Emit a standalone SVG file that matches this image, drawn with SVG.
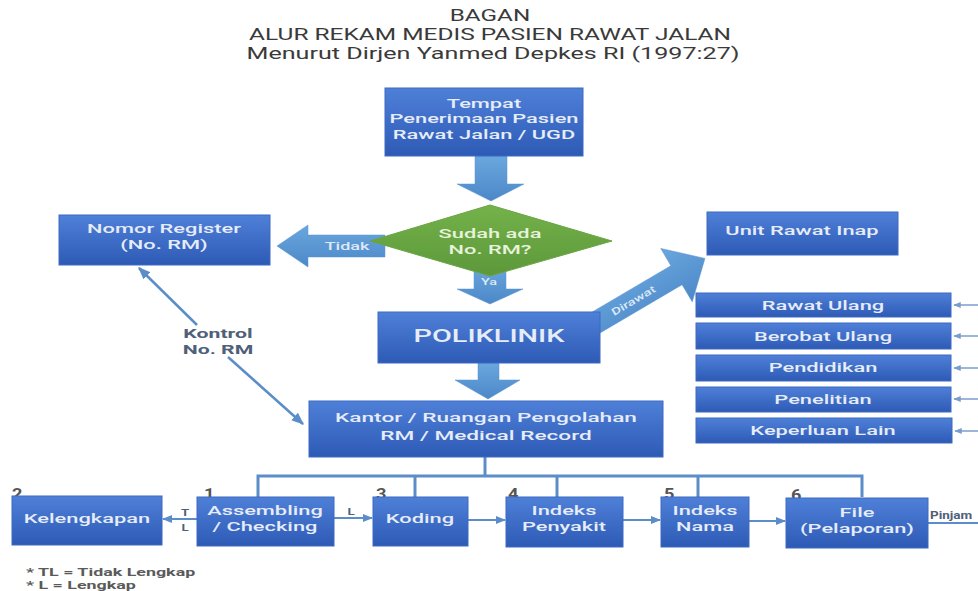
<svg xmlns="http://www.w3.org/2000/svg" width="978" height="591" viewBox="0 0 978 591">
<defs>
<linearGradient id="gBox" x1="0" y1="0" x2="0" y2="1"><stop offset="0" stop-color="#4f80d8"/><stop offset="1" stop-color="#2d5ab5"/></linearGradient>
<linearGradient id="gArr" x1="0" y1="0" x2="0" y2="1"><stop offset="0" stop-color="#6aa7de"/><stop offset="1" stop-color="#4c88c8"/></linearGradient>
<linearGradient id="gDia" x1="0" y1="0" x2="0" y2="1"><stop offset="0" stop-color="#74b24a"/><stop offset="1" stop-color="#5c983a"/></linearGradient>
<marker id="ah" viewBox="0 0 10 10" refX="9" refY="5" markerWidth="5" markerHeight="5" orient="auto-start-reverse"><path d="M0,1 L10,5 L0,9 z" fill="#5b8ec8"/></marker>
<marker id="ahs" viewBox="0 0 10 10" refX="9" refY="5" markerWidth="5" markerHeight="5" orient="auto"><path d="M0,1 L10,5 L0,9 z" fill="#7b9ccb"/></marker>
<style>
.box{fill:url(#gBox);stroke:#3d6bc4;stroke-width:1}
.arr{fill:url(#gArr);stroke:#5b95d0;stroke-width:0.5}
.bt{font-family:Roboto,"Liberation Sans",sans-serif;font-weight:500;font-size:13px;fill:#e6ecf8;text-anchor:middle}
.ttl{font-family:Roboto,"Liberation Sans",sans-serif;font-size:16px;fill:#3a3a3a;text-anchor:middle}
.sm{font-family:Roboto,"Liberation Sans",sans-serif;font-weight:500;font-size:10px;fill:#dfe8f6;text-anchor:middle}
.lbl{font-family:Roboto,"Liberation Sans",sans-serif;font-weight:700;fill:#4f6079}
.num{font-family:Roboto,"Liberation Sans",sans-serif;font-weight:700;font-size:14px;fill:#555}
.ln{fill:none;stroke:#5b8ec8;stroke-width:2}
.bus{fill:none;stroke:#5b8ec8;stroke-width:3}
.rs{fill:none;stroke:#7b9ccb;stroke-width:1.5}
</style>
</defs>
<rect width="978" height="591" fill="#ffffff"/>

<g id="title">
<text class="ttl" transform="translate(490,21) scale(1.52,1)">BAGAN</text>
<text class="ttl" transform="translate(490,40) scale(1.53,1)">ALUR REKAM MEDIS PASIEN RAWAT JALAN</text>
<text class="ttl" transform="translate(493,58.5) scale(1.57,1)">Menurut Dirjen Yanmed Depkes RI (1997:27)</text>
</g>

<g id="connectors">
<polygon class="arr" points="475,156 507,156 507,184 524,184 491,201 457,184 475,184"/>
<polygon class="arr" points="385,235 308,235 308,225 277,246 308,267 308,257 385,257"/>
<text class="sm" transform="translate(347,249.5) scale(1.8,1)">Tidak</text>
<polygon class="arr" points="474,265 506,265 506,289 523,289 490,304 457,289 474,289"/>
<text class="sm" transform="translate(489,285) scale(1.6,1)" style="font-size:9px">Ya</text>
<polygon class="arr" points="478,363 499,363 499,380 520,380 488,399 455,380 478,380"/>
<g transform="translate(580,332) rotate(-30.5)">
<polygon class="arr" points="0,-11 112,-11 112,-31 145,0 112,31 112,11 0,11"/>
<text class="sm" transform="translate(62,3.5) scale(1.45,1)">Dirawat</text>
</g>
<line class="ln" x1="197" y1="325" x2="139" y2="268" marker-end="url(#ah)" style="stroke-width:2.5"/>
<line class="ln" x1="228" y1="357" x2="303" y2="424" marker-end="url(#ah)" style="stroke-width:2.5"/>
<text class="lbl" transform="translate(218,338) scale(1.7,1)" style="font-size:12.5px;text-anchor:middle">Kontrol</text>
<text class="lbl" transform="translate(218,354) scale(1.7,1)" style="font-size:12.5px;text-anchor:middle">No. RM</text>
<polyline class="bus" points="485,457 485,476"/>
<polyline class="bus" points="258,497 258,476 862,476 862,497"/>
<line class="bus" x1="415" y1="476" x2="415" y2="497"/>
<line class="bus" x1="557" y1="476" x2="557" y2="497"/>
<line class="bus" x1="698" y1="476" x2="698" y2="497"/>
<line class="ln" x1="197" y1="519" x2="163" y2="519" marker-end="url(#ah)"/>
<text class="lbl" transform="translate(185,516) scale(1.4,1)" style="font-size:9.5px;text-anchor:middle">T</text>
<text class="lbl" transform="translate(185,531) scale(1.4,1)" style="font-size:9.5px;text-anchor:middle">L</text>
<line class="ln" x1="334" y1="518" x2="372" y2="518" marker-end="url(#ah)"/>
<text class="lbl" transform="translate(351,515) scale(1.4,1)" style="font-size:9.5px;text-anchor:middle">L</text>
<line class="ln" x1="468" y1="520" x2="505" y2="520" marker-end="url(#ah)"/>
<line class="ln" x1="623" y1="520" x2="660" y2="520" marker-end="url(#ah)"/>
<line class="ln" x1="749" y1="521" x2="785" y2="521" marker-end="url(#ah)"/>
<line class="ln" x1="928" y1="523" x2="978" y2="523"/>
<text class="lbl" transform="translate(930,519) scale(1.35,1)" style="font-size:10px">Pinjam</text>
<line class="rs" x1="978" y1="305" x2="954" y2="305" marker-end="url(#ahs)"/>
<line class="rs" x1="978" y1="336" x2="954" y2="336" marker-end="url(#ahs)"/>
<line class="rs" x1="978" y1="368" x2="954" y2="368" marker-end="url(#ahs)"/>
<line class="rs" x1="978" y1="399" x2="954" y2="399" marker-end="url(#ahs)"/>
<line class="rs" x1="978" y1="431" x2="955" y2="431" marker-end="url(#ahs)"/>
</g>

<g id="n-tempat">
<rect class="box" x="385" y="88" width="198" height="68"/>
<text class="bt" transform="translate(484,107.5) scale(1.68,1)">Tempat</text>
<text class="bt" transform="translate(484,123) scale(1.68,1)">Penerimaan Pasien</text>
<text class="bt" transform="translate(484,138.5) scale(1.68,1)">Rawat Jalan / UGD</text>
</g>

<g id="n-keputusan">
<polygon points="490,205 612,241 490,276 370,241" fill="url(#gDia)" stroke="#6aa545" stroke-width="1"/>
<text class="bt" transform="translate(490,238) scale(1.68,1)" style="fill:#e8f2dc">Sudah ada</text>
<text class="bt" transform="translate(490,254) scale(1.68,1)" style="fill:#e8f2dc">No. RM?</text>
</g>

<g id="n-nomor">
<rect class="box" x="59" y="215" width="211" height="50"/>
<text class="bt" transform="translate(164,233) scale(1.68,1)">Nomor Register</text>
<text class="bt" transform="translate(164,249) scale(1.68,1)">(No. RM)</text>
</g>

<g id="n-poliklinik">
<rect class="box" x="378" y="312" width="222" height="51"/>
<text class="bt" transform="translate(489,342) scale(1.52,1)" style="font-size:19px">POLIKLINIK</text>
</g>

<g id="n-inap">
<rect class="box" x="707" y="212" width="191" height="43"/>
<text class="bt" transform="translate(802,235) scale(1.68,1)">Unit Rawat Inap</text>
</g>

<g id="n-rawat-ulang">
<rect class="box" x="696" y="293" width="255" height="24"/>
<text class="bt" transform="translate(823,310) scale(1.68,1)">Rawat Ulang</text>
</g>
<g id="n-berobat-ulang">
<rect class="box" x="696" y="323" width="255" height="26"/>
<text class="bt" transform="translate(823,341) scale(1.68,1)">Berobat Ulang</text>
</g>
<g id="n-pendidikan">
<rect class="box" x="696" y="355" width="255" height="26"/>
<text class="bt" transform="translate(823,372) scale(1.68,1)">Pendidikan</text>
</g>
<g id="n-penelitian">
<rect class="box" x="696" y="387" width="255" height="25"/>
<text class="bt" transform="translate(823,404) scale(1.68,1)">Penelitian</text>
</g>
<g id="n-keperluan">
<rect class="box" x="696" y="418" width="256" height="25"/>
<text class="bt" transform="translate(823,435) scale(1.68,1)">Keperluan Lain</text>
</g>

<g id="n-kantor">
<rect class="box" x="309" y="401" width="354" height="56"/>
<text class="bt" transform="translate(486,422) scale(1.74,1)">Kantor / Ruangan Pengolahan</text>
<text class="bt" transform="translate(486,440) scale(1.74,1)">RM / Medical Record</text>
</g>

<g id="n-kelengkapan">
<text class="num" transform="translate(12,499) scale(1.3,1)">2</text>
<rect class="box" x="12" y="496" width="150" height="49"/>
<text class="bt" transform="translate(87,523) scale(1.68,1)">Kelengkapan</text>
</g>
<g id="n-assembling">
<text class="num" transform="translate(204,499) scale(1.3,1)">1</text>
<rect class="box" x="197" y="497" width="137" height="49"/>
<text class="bt" transform="translate(265,515) scale(1.68,1)">Assembling</text>
<text class="bt" transform="translate(265,531) scale(1.68,1)">/ Checking</text>
</g>
<g id="n-koding">
<text class="num" transform="translate(376,499) scale(1.3,1)">3</text>
<rect class="box" x="373" y="497" width="95" height="49"/>
<text class="bt" transform="translate(420,523) scale(1.68,1)">Koding</text>
</g>
<g id="n-indeks-penyakit">
<text class="num" transform="translate(508,499) scale(1.3,1)">4</text>
<rect class="box" x="506" y="497" width="117" height="50"/>
<text class="bt" transform="translate(564,515) scale(1.68,1)">Indeks</text>
<text class="bt" transform="translate(564,531) scale(1.68,1)">Penyakit</text>
</g>
<g id="n-indeks-nama">
<text class="num" transform="translate(664,499) scale(1.3,1)">5</text>
<rect class="box" x="661" y="497" width="88" height="50"/>
<text class="bt" transform="translate(705,515) scale(1.68,1)">Indeks</text>
<text class="bt" transform="translate(705,531) scale(1.68,1)">Nama</text>
</g>
<g id="n-file">
<text class="num" transform="translate(791,500) scale(1.3,1)">6</text>
<rect class="box" x="786" y="498" width="142" height="50"/>
<text class="bt" transform="translate(857,517) scale(1.68,1)">File</text>
<text class="bt" transform="translate(857,533) scale(1.68,1)">(Pelaporan)</text>
</g>

<g id="legend">
<text class="lbl" transform="translate(26,576) scale(1.7,1)" style="font-size:10.5px;fill:#5a5a5a">* TL = Tidak Lengkap</text>
<text class="lbl" transform="translate(26,589) scale(1.7,1)" style="font-size:10.5px;fill:#5a5a5a">* L = Lengkap</text>
</g>
</svg>
